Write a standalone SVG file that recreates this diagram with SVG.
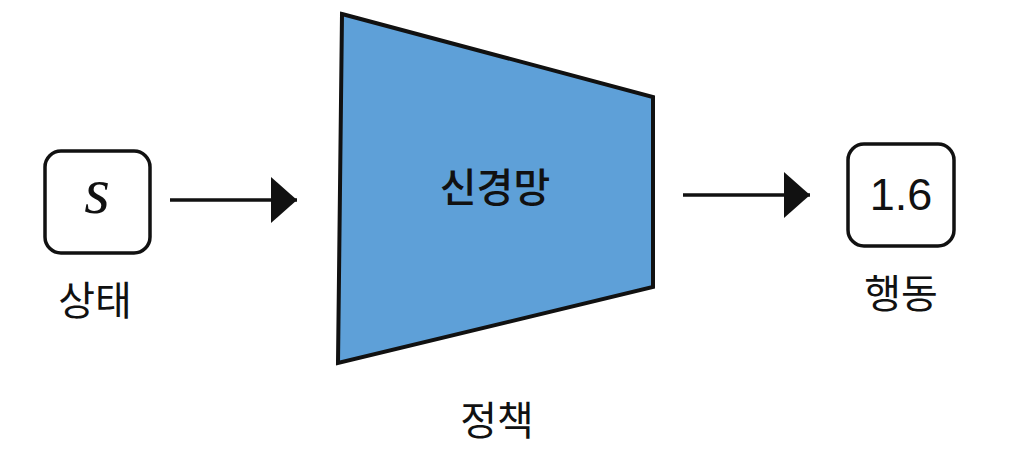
<svg xmlns="http://www.w3.org/2000/svg" width="1033" height="466" viewBox="0 0 1033 466">
<style>
.box{fill:#fff;stroke:#111;stroke-width:3.5}
.lbl{font-family:"Noto Sans CJK KR","Noto Sans",sans-serif;font-size:40px;fill:#111;text-anchor:middle}
.edge{stroke:#111;stroke-width:3.5;fill:none}
</style>
<defs>
<marker id="ah" markerUnits="userSpaceOnUse" markerWidth="28" markerHeight="46" refX="26" refY="23" orient="auto">
<path d="M0,0 L26,23 L0,46 Z" fill="#111"/>
</marker>
</defs>
<rect width="1033" height="466" fill="#fff"/>
<g id="state">
<rect class="box" x="45" y="151" width="105" height="102" rx="16"/>
<text x="97" y="213" font-family="Liberation Serif,serif" font-style="italic" font-size="66" text-anchor="middle" fill="#111">s</text>
<text class="lbl" x="95" y="315">상태</text>
</g>
<g id="policy">
<polygon points="342,14 653,97 653,287 338,363" fill="#5ea0d8" stroke="#111" stroke-width="4" stroke-linejoin="miter"/>
<text class="lbl" x="495" y="202" font-weight="500" font-size="38">신경망</text>
<text class="lbl" x="497" y="435">정책</text>
</g>
<g id="action">
<rect class="box" x="848" y="144" width="106" height="102" rx="16"/>
<text x="901" y="210" font-family="Liberation Sans,Arial,sans-serif" font-size="45" text-anchor="middle" fill="#111">1.6</text>
<text class="lbl" x="901" y="308">행동</text>
</g>
<g id="connectors">
<line class="edge" x1="170" y1="200" x2="297" y2="200" marker-end="url(#ah)"/>
<line class="edge" x1="683" y1="195" x2="810" y2="195" marker-end="url(#ah)"/>
</g>
</svg>
